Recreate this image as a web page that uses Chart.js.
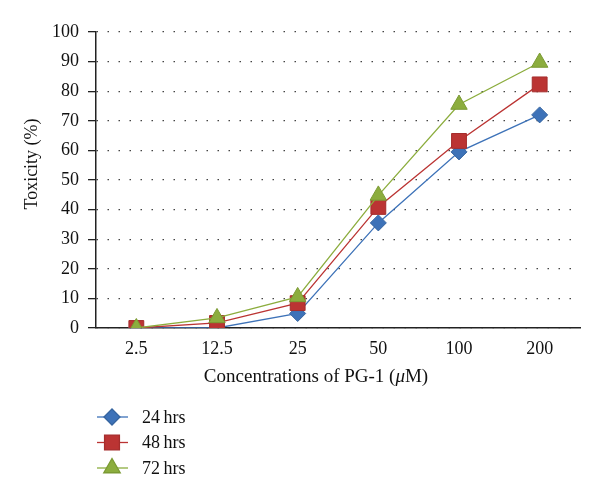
<!DOCTYPE html>
<html>
<head>
<meta charset="utf-8">
<script src="https://cdn.jsdelivr.net/npm/chart.js@4/dist/chart.umd.min.js"></script>
<style>
  body { margin: 0; background: #fff; }
</style>
</head>
<body>
<canvas id="toxChart" width="600" height="499"></canvas>
<script>
// concentrations of PG-1 (uM) and toxicity (%) per exposure time
const concentrations = ['2.5', '12.5', '25', '50', '100', '200'];
const tox24 = [0, 0, 4.9, 35.5, 59.5, 72];
const tox48 = [0, 1.7, 8.4, 40.9, 63.2, 82.3];
const tox72 = [0, 3.4, 10.5, 44.8, 75.5, 89.7];
const seriesNames = ['24\u2009hrs', '48\u2009hrs', '72\u2009hrs'];
const xTitleParts = ['Concentrations of PG-1 (', '\u03bc', 'M)'];
const yTitle = 'Toxicity (%)';

const serif = "'Liberation Serif', 'DejaVu Serif', serif";

// axis titles sit off-centre in the original, so they are drawn by hand,
// and the legend is a vertical list under the x axis title
const extras = {
    id: 'extras',
    afterDraw(chart) {
        const ctx = chart.ctx;
        const area = chart.chartArea;
        ctx.save();
        ctx.fillStyle = '#111';
        ctx.textBaseline = 'middle';

        // y title
        ctx.font = '18px ' + serif;
        ctx.save();
        ctx.translate(32, 164);
        ctx.rotate(-Math.PI / 2);
        ctx.textAlign = 'center';
        ctx.fillText(yTitle, 0, 0);
        ctx.restore();

        // x title, with an italic mu
        const fonts = ['19px ' + serif, 'italic 19px ' + serif, '19px ' + serif];
        let total = 0;
        const widths = xTitleParts.map((t, i) => {
            ctx.font = fonts[i];
            const w = ctx.measureText(t).width;
            total += w;
            return w;
        });
        let x = 316 - total / 2;
        ctx.textAlign = 'left';
        xTitleParts.forEach((t, i) => {
            ctx.font = fonts[i];
            ctx.fillText(t, x, 377);
            x += widths[i];
        });

        // legend
        const x0 = area.left + 1;
        chart.data.datasets.forEach((ds, i) => {
            const y = 417 + i * 25.5;
            ctx.strokeStyle = ds.borderColor;
            ctx.lineWidth = 1.3;
            ctx.beginPath();
            ctx.moveTo(x0, y);
            ctx.lineTo(x0 + 31, y);
            ctx.stroke();
            ctx.fillStyle = ds.pointBackgroundColor;
            ctx.strokeStyle = ds.pointBorderColor;
            Chart.helpers.drawPoint(ctx, {
                pointStyle: ds.pointStyle,
                radius: ds.pointRadius,
                borderWidth: 1,
                rotation: 0
            }, x0 + 15, y);
            ctx.fillStyle = '#111';
            ctx.font = '18px ' + serif;
            ctx.fillText(ds.label, x0 + 45, y + 1);
        });
        ctx.restore();
    }
};

function makeSet(label, data, color, edge, style, radius, order) {
    return {
        label: label,
        data: data,
        borderColor: color,
        borderWidth: 1.3,
        pointStyle: style,
        pointRadius: radius,
        pointHoverRadius: radius,
        pointBackgroundColor: color,
        pointBorderColor: edge,
        pointBorderWidth: 1,
        order: order,
        fill: false,
        tension: 0
    };
}

new Chart(document.getElementById('toxChart'), {
    type: 'line',
    data: {
        labels: concentrations,
        datasets: [
            makeSet(seriesNames[0], tox24, '#3d72b8', '#35649f', 'rectRot', 8, 3),
            makeSet(seriesNames[1], tox48, '#bb3433', '#a52d2c', 'rect', 10.5, 2),
            makeSet(seriesNames[2], tox72, '#8cad3e', '#7b9a33', 'triangle', 9.5, 1)
        ]
    },
    options: {
        responsive: false,
        animation: false,
        layout: { padding: { top: 32, right: 20, bottom: 106, left: 0 } },
        plugins: {
            legend: { display: false },
            tooltip: { enabled: false }
        },
        scales: {
            x: {
                offset: true,
                grid: { display: false, drawTicks: false },
                border: { display: true, color: '#222', width: 1.5 },
                ticks: { color: '#111', padding: 10, font: { family: serif, size: 18 } },
                afterFit(scale) { scale.height = 65; }
            },
            y: {
                min: 0,
                max: 100,
                ticks: {
                    stepSize: 10,
                    color: '#111',
                    padding: 9,
                    font: { family: serif, size: 18 }
                },
                grid: {
                    color: '#444',
                    lineWidth: 1.3,
                    tickLength: 8,
                    tickColor: '#222',
                    tickWidth: 1.3,
                    tickBorderDash: []
                },
                border: { display: true, color: '#222', width: 1.5, dash: [1.5, 9.5] },
                afterFit(scale) { scale.width = 96; }
            }
        }
    },
    plugins: [extras]
});
</script>
</body>
</html>
